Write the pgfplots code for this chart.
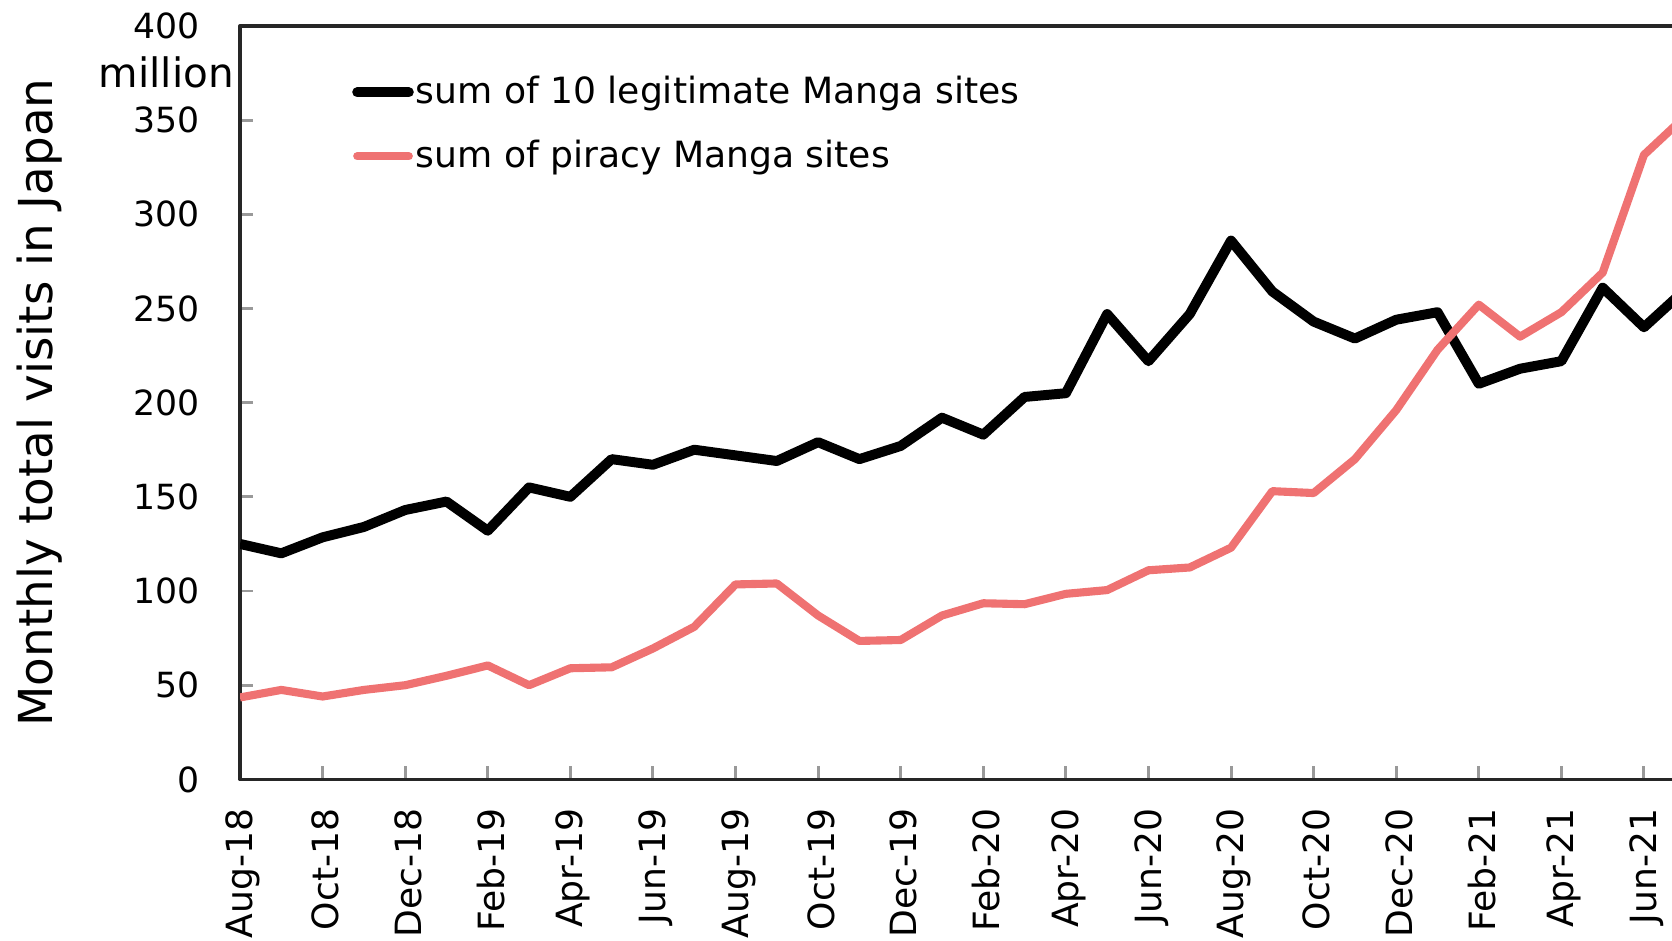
\documentclass[border=0pt]{standalone}
\usepackage{fontspec}
\setmainfont{DejaVu Sans}
\usepackage{pgfplots}
\pgfplotsset{compat=1.18}
\definecolor{pirate}{RGB}{239,114,114}

\begin{document}
\begin{tikzpicture}
\begin{axis}[
    at={(0,0)}, anchor=south west,
    scale only axis,
    width=403.2pt, height=204.4pt,
    xmin=0, xmax=36,
    ymin=0, ymax=400,
    xtick={0,2,...,34},
    xticklabels={Aug-18,Oct-18,Dec-18,Feb-19,Apr-19,Jun-19,Aug-19,Oct-19,Dec-19,
                 Feb-20,Apr-20,Jun-20,Aug-20,Oct-20,Dec-20,Feb-21,Apr-21,Jun-21},
    ytick={0,50,...,400},
    xtick pos=bottom, ytick pos=left,
    /pgf/number format/assume math mode=true,
    xticklabel style={font=\fontsize{9.8}{12}\selectfont, rotate=90, anchor=east, xshift=-4.4pt, yshift=-0.8pt},
    yticklabel style={font=\fontsize{9.4}{11}\selectfont, xshift=-7.5pt},
    tick align=inside,
    major tick length=3.6pt,
    tick style={black!40, line width=0.8pt},
    axis line style={black!85, line width=1pt},
    ylabel={Monthly total visits in Japan},
    ylabel style={font=\fontsize{12.7}{15}\selectfont, at={(axis description cs:-0.1345,0.5)}, anchor=center},
    legend image code/.code={\draw[#1, line cap=round] (0pt,0pt) -- (14pt,0pt);},
    legend cell align=left,
    legend style={draw=none, fill=none, at={(axis description cs:0.075,0.937)}, anchor=north west,
                  font=\fontsize{9.8}{11}\selectfont, row sep=7.4pt, inner sep=0pt,
                  nodes={inner sep=0.5pt}},
    line join=round,
    clip mode=individual,
]

% legitimate sites
\addplot[black, line width=2.7pt] coordinates {
(0,125) (1,120) (2,128.5) (3,134) (4,143) (5,147.5) (6,132) (7,155) (8,150) (9,170)
(10,167) (11,175) (12,172) (13,169) (14,179) (15,170) (16,177) (17,192) (18,183) (19,203)
(20,205) (21,247) (22,222) (23,247) (24,286) (25,259) (26,243) (27,234) (28,244) (29,248)
(30,210) (31,218) (32,222) (33,261) (34,240) (35,260)
};
\addlegendentry{sum of 10 legitimate Manga sites}

% piracy sites
\addplot[pirate, line width=2.2pt] coordinates {
(0,43.5) (1,47.5) (2,44) (3,47.5) (4,50) (5,55) (6,60.5) (7,50) (8,59) (9,59.5)
(10,69.5) (11,81) (12,103.5) (13,104) (14,87) (15,73.5) (16,74) (17,87) (18,93.5) (19,93)
(20,98.5) (21,100.5) (22,111) (23,112.5) (24,123) (25,153) (26,152) (27,170) (28,196) (29,228)
(30,252) (31,235) (32,248) (33,269) (34,331.5) (35,352)
};
\addlegendentry{sum of piracy Manga sites}

\node[font=\fontsize{11}{13}\selectfont, anchor=center] at ([xshift=-20pt, yshift=-12.5pt]rel axis cs:0,1) {million};
\end{axis}
\pgfresetboundingbox
\useasboundingbox (-65.1pt,-43.7pt) rectangle (388.4pt,211.4pt);
\end{tikzpicture}
\end{document}
